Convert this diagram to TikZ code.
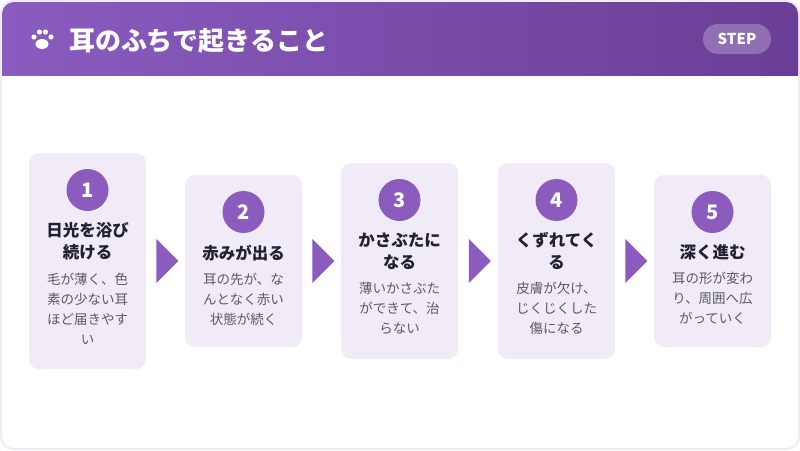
\documentclass[tikz,border=0pt]{standalone}
\usepackage{fontspec}
\setmainfont{Noto Sans CJK JP}
\usetikzlibrary{positioning, calc, shapes.geometric}
\definecolor{hdrA}{HTML}{8A5CBF}
\definecolor{hdrB}{HTML}{6A3D96}
\definecolor{cardbg}{HTML}{F1EBF8}
\definecolor{stepc}{HTML}{8B5CBE}
\definecolor{titlec}{HTML}{1F2230}
\definecolor{descc}{HTML}{5A5A66}
\tikzset{
	card/.style={
		fill=cardbg,
		rounded corners=10pt,
		minimum width=117pt,
		inner sep=0pt
	},
	num/.style={
		circle,
		fill=stepc,
		minimum size=42pt,
		inner sep=0pt,
		text=white,
		font=\bfseries\fontsize{20}{20}\selectfont
	},
	ttl/.style={
		align=center,
		text=titlec,
		font=\bfseries\fontsize{16.5}{22}\selectfont
	},
	desc/.style={
		align=center,
		text=descc,
		font=\fontsize{13.5}{20}\selectfont
	},
	nxt/.style={
		isosceles triangle,
		isosceles triangle apex angle=90,
		fill=stepc,
		minimum height=22pt,
		inner sep=0pt
	}
}

\begin{document}
\begin{tikzpicture}[x=1pt,y=-1pt]
	\useasboundingbox (0,0) rectangle (800,450);
	% frame and header
	\fill[white, draw=cardbg, line width=2pt, rounded corners=12pt] (1,1) rectangle (799,449);
	\begin{scope}
	\clip[rounded corners=12pt] (2,2) rectangle (798,448);
	\shade[left color=hdrA, right color=hdrB] (0,0) rectangle (800,75);
	\end{scope}
	% paw
	\begin{scope}[white]
	\fill (42,44) ellipse (6.5pt and 5pt);
	\fill (34,37) circle (2.6pt);
	\fill (39.5,32) circle (2.6pt);
	\fill (45.5,32) circle (2.6pt);
	\fill (51,37) circle (2.6pt);
	\end{scope}
	\node[anchor=west, text=white, font=\bfseries\fontsize{26}{26}\selectfont] (title) at (66,41) {耳のふちで起きること};
	\node[fill=white, fill opacity=0.25, text opacity=1, rounded corners=15pt, minimum width=68pt, minimum height=30pt, text=white, font=\bfseries\fontsize{15}{15}\selectfont] (step) at (737,39) {STEP};

	% cards
	\node[card, minimum height=216pt] (c1) at (87.5,261) {};
	\node[card, minimum height=172pt] (c2) at (243.5,261) {};
	\node[card, minimum height=196pt] (c3) at (399.5,261) {};
	\node[card, minimum height=196pt] (c4) at (556.5,261) {};
	\node[card, minimum height=172pt] (c5) at (712.5,261) {};

	\node[num] (n1) at (87.5,190) {1};
	\node[num] (n2) at (243.5,212) {2};
	\node[num] (n3) at (399.5,200) {3};
	\node[num] (n4) at (556.5,200) {4};
	\node[num] (n5) at (712.5,212) {5};

	\node[ttl, below=8pt of n1] (t1) {日光を浴び\\続ける};
	\node[ttl, below=8pt of n2] (t2) {赤みが出る};
	\node[ttl, below=8pt of n3] (t3) {かさぶたに\\なる};
	\node[ttl, below=8pt of n4] (t4) {くずれてく\\る};
	\node[ttl, below=8pt of n5] (t5) {深く進む};

	\node[desc, below=5pt of t1] (d1) {毛が薄く、色\\素の少ない耳\\ほど届きやす\\い};
	\node[desc, below=5pt of t2] (d2) {耳の先が、な\\んとなく赤い\\状態が続く};
	\node[desc, below=5pt of t3] (d3) {薄いかさぶた\\ができて、治\\らない};
	\node[desc, below=5pt of t4] (d4) {皮膚が欠け、\\じくじくした\\傷になる};
	\node[desc, below=5pt of t5] (d5) {耳の形が変わ\\り、周囲へ広\\がっていく};

	% arrows between cards
	\foreach \a/\b in {1/2,2/3,3/4,4/5} {
		\node[nxt] (a\a) at ($(c\a.east)!0.5!(c\b.west)$) {};
	}
\end{tikzpicture}
\end{document}
